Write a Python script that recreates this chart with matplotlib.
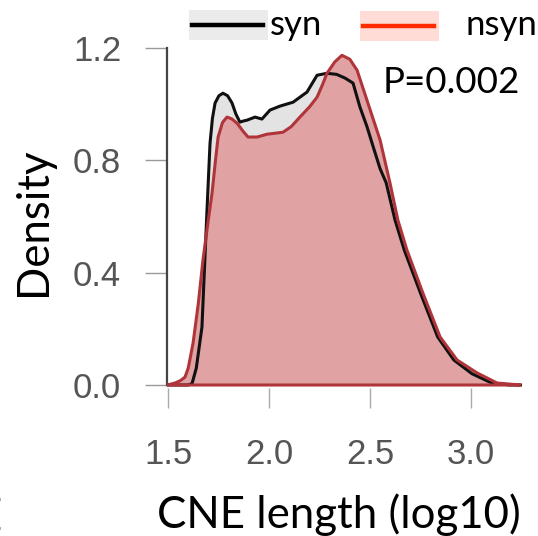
import numpy as np
import matplotlib
matplotlib.use("Agg")
import matplotlib.pyplot as plt
from matplotlib.patches import Rectangle
from matplotlib.lines import Line2D

# ----------- data ---------------------------------------
syn_x = [1.50, 1.60, 1.619, 1.64, 1.668, 1.693, 1.708, 1.72, 1.733, 1.752, 1.772,
         1.795, 1.817, 1.836, 1.856, 1.873, 1.891, 1.931, 1.965, 2.005, 2.054,
         2.119, 2.188, 2.238, 2.287, 2.335, 2.376, 2.416, 2.45, 2.485, 2.515,
         2.55, 2.58, 2.624, 2.67, 2.75, 2.835, 2.915, 3.005, 3.10, 3.19, 3.25]
syn_y = [0.0, 0.0, 0.005, 0.06, 0.206, 0.623, 0.861, 0.95, 1.004, 1.03, 1.039,
         1.03, 1.004, 0.965, 0.936, 0.94, 0.943, 0.954, 0.947, 0.979, 0.993,
         1.007, 1.043, 1.103, 1.110, 1.106, 1.093, 1.075, 0.99, 0.92, 0.85,
         0.77, 0.72, 0.587, 0.48, 0.327, 0.171, 0.089, 0.04, 0.008, 0.0, 0.0]

nsyn_x = [1.497, 1.535, 1.56, 1.584, 1.60, 1.624, 1.65, 1.673, 1.698, 1.718,
          1.735, 1.748, 1.77, 1.792, 1.815, 1.842, 1.87, 1.896, 1.941, 1.990,
          2.069, 2.11, 2.153, 2.20, 2.238, 2.265, 2.287, 2.325, 2.361, 2.40,
          2.436, 2.485, 2.55, 2.599, 2.638, 2.683, 2.762, 2.847, 2.931, 3.03,
          3.129, 3.243]
nsyn_y = [0.0, 0.007, 0.015, 0.028, 0.06, 0.149, 0.29, 0.445, 0.58, 0.683,
          0.80, 0.883, 0.935, 0.954, 0.948, 0.932, 0.905, 0.883, 0.883, 0.893,
          0.900, 0.92, 0.954, 0.99, 1.025, 1.07, 1.110, 1.15, 1.174, 1.16,
          1.121, 1.014, 0.872, 0.719, 0.587, 0.48, 0.327, 0.171, 0.089, 0.043,
          0.007, 0.0]

xticks = [1.5, 2.0, 2.5, 3.0]
yticks = [0.0, 0.4, 0.8, 1.2]
xtick_labels = ["1.5", "2.0", "2.5", "3.0"]
ytick_labels = ["0.0", "0.4", "0.8", "1.2"]
legend_labels = ["syn", "nsyn"]
p_text = "P=0.002"

W, H = 538, 536
def fx(px):
    return px / W
def fy(py):
    return 1 - py / H

fig = plt.figure(figsize=(W / 100, H / 100), dpi=100)
xlim = (1.495, 3.25)
ylim = (-0.01, 1.2)
ax = fig.add_axes([fx(167), fy(387.8), fx(521.5) - fx(167), fy(48) - fy(387.8)])
ax.set_xlim(*xlim)
ax.set_ylim(*ylim)

ax.fill_between(syn_x, syn_y, color="#e3e3e3", lw=0, zorder=1)
ax.fill_between(nsyn_x, nsyn_y, color="#e0a2a2", lw=0, zorder=2)
ax.plot(syn_x, syn_y, color="#111111", lw=2.2, zorder=3, solid_joinstyle="round")
ax.fill_between(nsyn_x, nsyn_y, facecolor="none", edgecolor="#b0353a", lw=2.2, zorder=4)

for s in ["top", "right", "bottom"]:
    ax.spines[s].set_visible(False)
ax.spines["left"].set_bounds(0, 1.2)
ax.spines["left"].set_color("#444444")
ax.spines["left"].set_linewidth(1.6)

tick_font = dict(family="Liberation Sans", size=25, color="#555555")
ax.set_xticks(xticks)
ax.set_xticklabels(xtick_labels, **tick_font)
ax.set_yticks(yticks)
ax.set_yticklabels(ytick_labels, **tick_font)
ax.tick_params(axis="x", length=14.5, width=1.0, color="#aaaaaa", pad=22)
ax.tick_params(axis="y", length=16, width=1.0, color="#999999", pad=17)

lab_font = dict(family="Lato", size=31.5, color="black")
fig.text(fx(339), fy(528), "CNE length (log10)", ha="center", va="baseline", **lab_font)
fig.text(fx(46), fy(222), "Density", rotation=90, ha="center", va="baseline",
         rotation_mode="anchor", **lab_font)
# cut-off letter from a neighbouring panel at the left edge
fig.text(fx(2.0), fy(530), "E", ha="right", va="baseline", **lab_font)
fig.text(fx(383), fy(93), p_text, ha="left", va="baseline", family="Lato", size=26.5)

# legend
fig.add_artist(Rectangle((fx(189), fy(40)), fx(268) - fx(189), fy(10) - fy(40),
                         transform=fig.transFigure, color="#ebebeb", lw=0))
fig.add_artist(Line2D([fx(192), fx(263)], [fy(25), fy(25)], transform=fig.transFigure,
                      color="black", lw=3.2))
fig.text(fx(270), fy(35), legend_labels[0], ha="left", va="baseline", family="Lato", size=25)
fig.add_artist(Rectangle((fx(360), fy(41)), fx(439) - fx(360), fy(11) - fy(41),
                         transform=fig.transFigure, color="#ffdcd6", lw=0))
fig.add_artist(Line2D([fx(363), fx(434)], [fy(26), fy(26)], transform=fig.transFigure,
                      color="#ff2a00", lw=3.2))
fig.text(fx(465), fy(35), legend_labels[1], ha="left", va="baseline", family="Lato", size=25)

fig.savefig("out.png", dpi=100)
